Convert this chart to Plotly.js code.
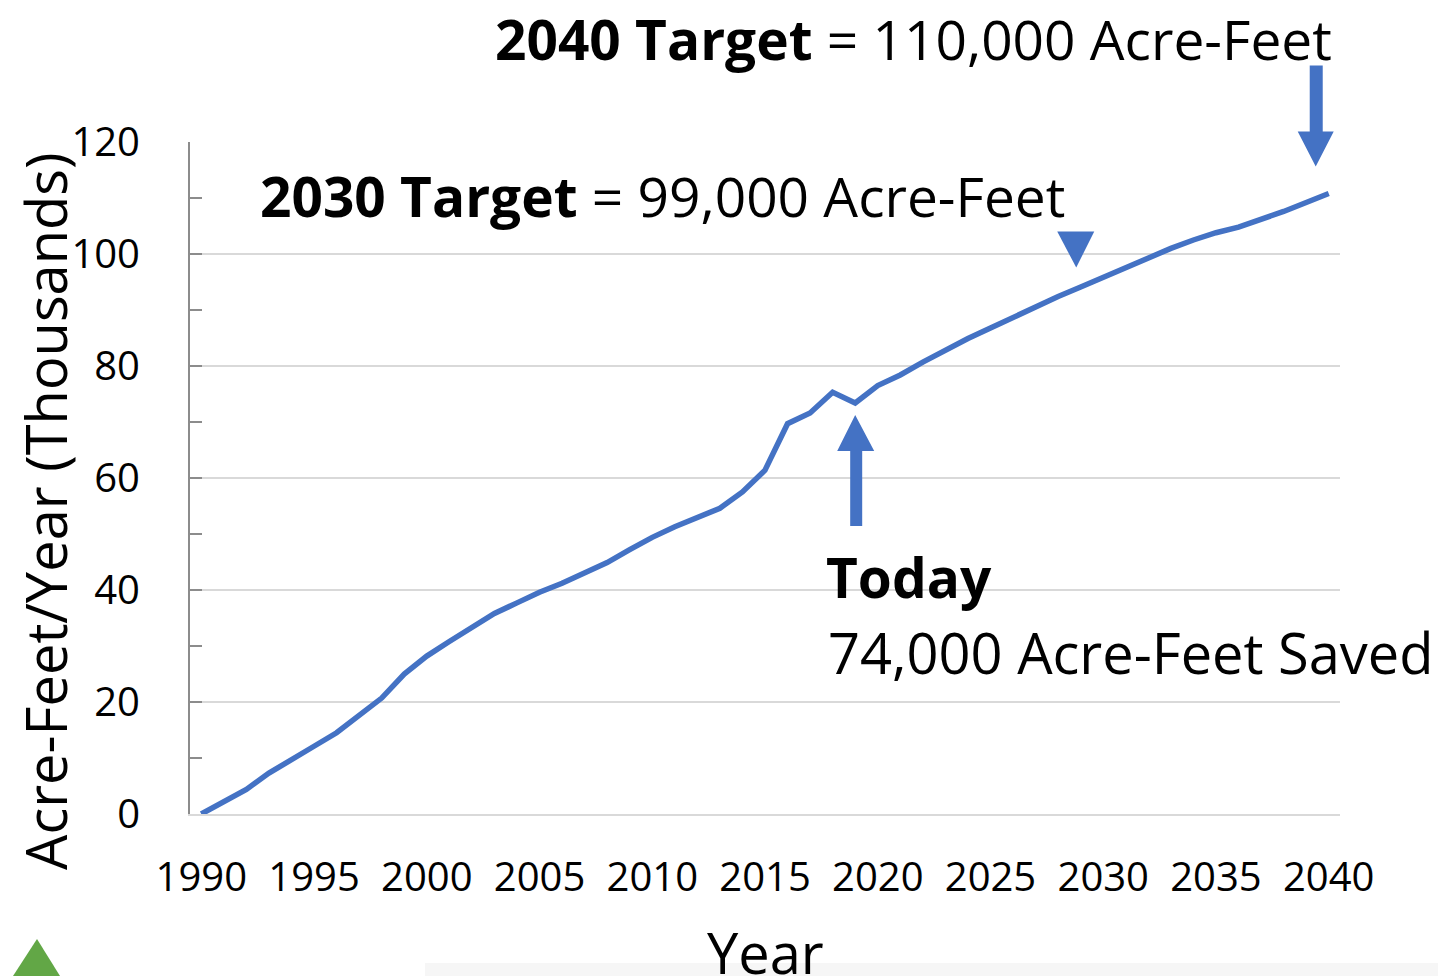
<!DOCTYPE html>
<html>
<head>
<meta charset="utf-8">
<script src="https://cdn.plot.ly/plotly-3.0.1.min.js"></script>
<style>html,body{margin:0;padding:0;background:#fff;}#chart{width:1438px;height:976px;}</style>
</head>
<body>
<div id="chart"></div>
<script>
// ---- data (thousand acre-feet saved per year) ----
const years = [1990,1991,1992,1993,1994,1995,1996,1997,1998,1999,
               2000,2001,2002,2003,2004,2005,2006,2007,2008,2009,
               2010,2011,2012,2013,2014,2015,2016,2017,2018,2019,
               2020,2021,2022,2023,2024,2025,2026,2027,2028,2029,
               2030,2031,2032,2033,2034,2035,2036,2037,2038,2039,2040];
const savedThousands = [0,2.2,4.4,7.3,9.8,12.1,14.5,17.5,20.7,25.0,
               28.2,30.8,33.4,35.8,37.7,39.6,41.2,43.1,44.9,47.2,
               49.4,51.3,53.0,54.6,57.5,61.4,69.7,71.6,75.3,73.4,
               76.5,78.4,80.7,82.9,84.9,86.8,88.7,90.6,92.4,94.1,
               95.8,97.6,99.4,101.0,102.5,103.8,104.8,106.1,107.6,109.2,110.8];
const xTickVals = [1990,1995,2000,2005,2010,2015,2020,2025,2030,2035,2040];
const yTickVals = [0,20,40,60,80,100,120];
const todayYear = 2019;
const target2030Year = 2030;
const target2040Year = 2040;

// ---- layout geometry ----
const W = 1438, H = 976;
const M = {l:190, r:98, t:142, b:162};
const PW = W - M.l - M.r, PH = H - M.t - M.b;
const xRange = [1989.5, 2040.5];
const yRange = [0, 120];
const px = x => (x - M.l) / PW;          // pixel -> paper
const py = y => (H - M.b - y) / PH;
const xf = yr => (yr - xRange[0]) / (xRange[1] - xRange[0]);   // data -> paper
const yf = v => (v - yRange[0]) / (yRange[1] - yRange[0]);
const valAt = yr => savedThousands[years.indexOf(yr)];

const BLUE = '#4472C4';
const FONT = 'Open Sans, Noto Sans, sans-serif';

function pixelShape(yr, val, path, color) {
  return {type:'path', xref:'paper', yref:'paper', xsizemode:'pixel', ysizemode:'pixel',
          xanchor: xf(yr), yanchor: yf(val), path: path,
          fillcolor: color, line:{width:0}, layer:'above'};
}

const shapes = [
  // 2040 down arrow (pixel offsets, y up)
  pixelShape(target2040Year, valAt(target2040Year),
    'M -19,128 L -6,128 L -6,62 L 5,62 L -13,27 L -31,62 L -19,62 Z', BLUE),
  // 2030 down triangle
  pixelShape(target2030Year, valAt(target2030Year),
    'M -46,46 L -9,46 L -27,10 Z', BLUE),
  // Today up arrow
  pixelShape(todayYear, valAt(todayYear),
    'M -5,-123 L 7,-123 L 7,-48 L 19,-48 L 0,-12 L -18,-48 L -5,-48 Z', BLUE),
  // decorative green triangle (bottom-left)
  {type:'path', xref:'paper', yref:'paper', layer:'above',
   path:`M ${px(37)},${py(939)} L ${px(60)},${py(976)} L ${px(13)},${py(976)} Z`,
   fillcolor:'#62A746', line:{width:0}},
  // faint band bottom
  {type:'rect', xref:'paper', yref:'paper', layer:'below',
   x0:px(425), x1:px(1438), y0:py(963), y1:py(976),
   fillcolor:'#f6f6f6', line:{width:0}}
];

const annFont = {family: FONT, size: 55, color:'#000'};
const annotations = [
  {xref:'paper', yref:'paper', x:px(1333), y:py(38), xanchor:'right', yanchor:'middle', borderpad:0,
   text:'<b>2040 Target</b> = 110,000 Acre-Feet', showarrow:false, font:annFont},
  {xref:'paper', yref:'paper', x:px(259), y:py(195), xanchor:'left', yanchor:'middle', borderpad:0,
   text:'<b>2030 Target</b> = 99,000 Acre-Feet', showarrow:false, font:annFont},
  {xref:'paper', yref:'paper', x:px(825), y:py(576), xanchor:'left', yanchor:'middle', borderpad:0,
   text:'<b>Today</b>', showarrow:false, font:annFont},
  {xref:'paper', yref:'paper', x:px(827), y:py(652), xanchor:'left', yanchor:'middle', borderpad:0,
   text:'74,000 Acre-Feet Saved', showarrow:false, font:{family: FONT, size: 56, color:'#000'}},
  // y-axis title
  {xref:'paper', yref:'paper', x:px(45), y:py(511), xanchor:'center', yanchor:'middle', borderpad:0,
   textangle:-90, text:'Acre-Feet/Year (Thousands)', showarrow:false,
   font:{family: FONT, size: 56, color:'#000'}},
  // x-axis title
  {xref:'paper', yref:'paper', x:px(765), y:py(952), xanchor:'center', yanchor:'middle', borderpad:0,
   text:'Year', showarrow:false, font:{family: FONT, size: 56, color:'#000'}}
];

const trace = {
  x: years, y: savedThousands, type:'scatter', mode:'lines',
  line:{color:BLUE, width:5.5}, hoverinfo:'x+y', showlegend:false
};

const layout = {
  width: W, height: H,
  margin: M,
  paper_bgcolor:'#fff', plot_bgcolor:'#fff',
  font:{family: FONT, color:'#000'},
  showlegend:false,
  xaxis:{
    range: xRange, tickvals: xTickVals, ticktext: xTickVals.map(String),
    showgrid:false, zeroline:false, showline:true, linecolor:'#d9d9d9', linewidth:2,
    ticks:'', tickfont:{size:40, family:FONT, color:'#000'}, ticklabelstandoff: 27,
    title:{text:''},
    automargin:false, fixedrange:true
  },
  yaxis:{
    range: yRange, tickvals: yTickVals, ticktext: yTickVals.map(String),
    showgrid:true, gridcolor:'#d9d9d9', gridwidth:1.5, zeroline:false,
    showline:true, linecolor:'#8c8c8c', linewidth:2,
    ticks:'inside', ticklen:12, tickwidth:2, tickcolor:'#8c8c8c',
    minor:{dtick:10, ticks:'inside', ticklen:12, tickwidth:2, tickcolor:'#8c8c8c', showgrid:false},
    tickfont:{size:40, family:FONT, color:'#000'}, ticklabelstandoff: 40,
    title:{text:''},
    automargin:false, fixedrange:true
  },
  shapes: shapes,
  annotations: annotations
};

Plotly.newPlot('chart', [trace], layout, {displayModeBar:false, staticPlot:true});
</script>
</body>
</html>
